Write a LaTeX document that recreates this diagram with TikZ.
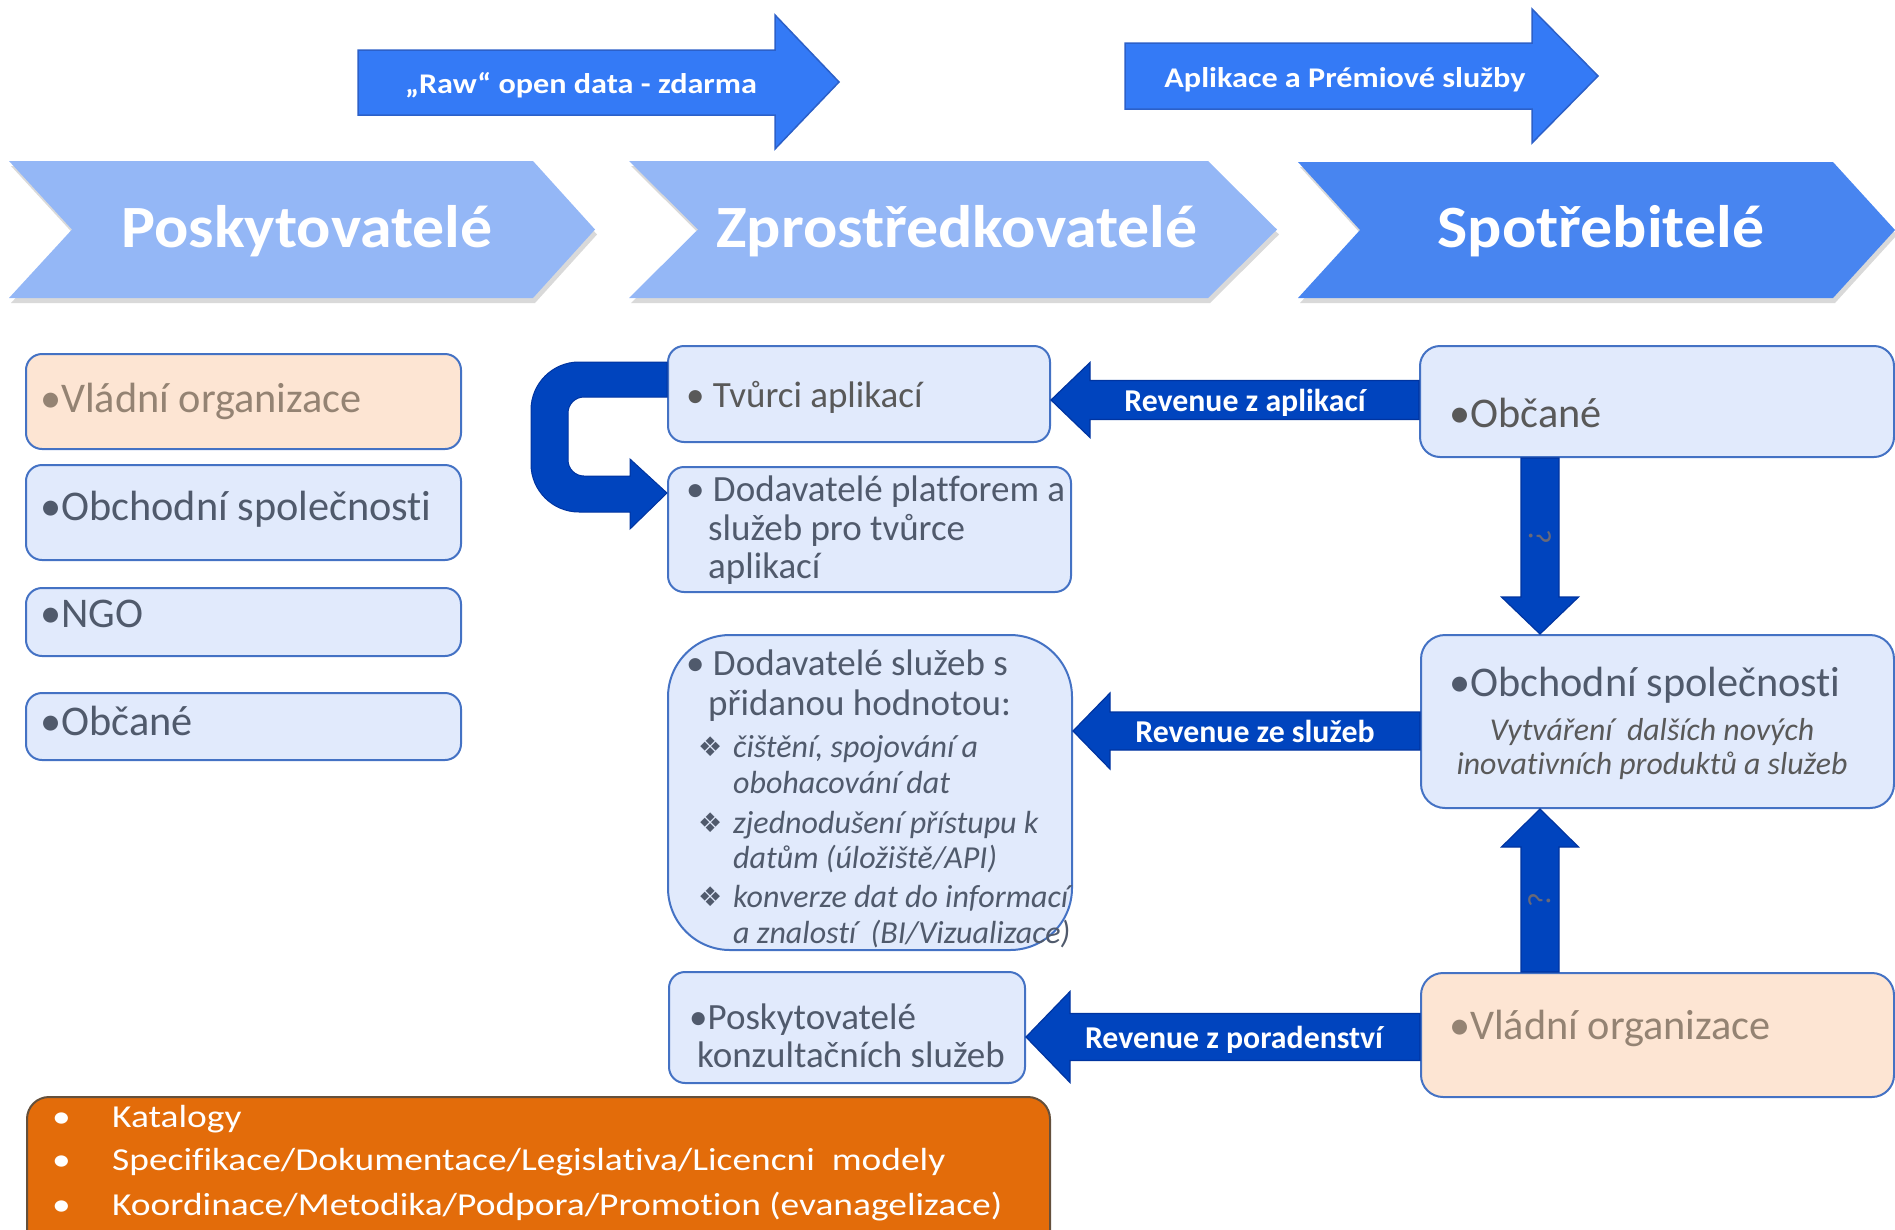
\documentclass[tikz,border=0pt]{standalone}
\usepackage{fontspec}
\setmainfont{Carlito}[Ligatures=NoCommon]
\newfontfamily\chevfont{Carlito}[Ligatures=NoCommon,FakeStretch=1.065]
\newfontfamily\topfont{Carlito}[Ligatures=NoCommon,FakeStretch=1.13]
\newfontfamily\orfont{Carlito}[Ligatures=NoCommon,FakeStretch=1.17]
\newfontfamily\dejavu{DejaVu Sans}
\usetikzlibrary{calc,shadows}
\definecolor{chevL}{RGB}{148,183,246}
\definecolor{chevD}{RGB}{72,133,240}
\definecolor{topblue}{RGB}{52,122,246}
\definecolor{topborder}{RGB}{44,96,200}
\definecolor{barrowc}{RGB}{0,68,190}
\definecolor{barrowb}{RGB}{0,52,160}
\definecolor{boxfill}{RGB}{225,234,252}
\definecolor{boxline}{RGB}{68,114,196}
\definecolor{peach}{RGB}{253,229,211}
\definecolor{orangefill}{RGB}{227,108,10}
\definecolor{orangeline}{RGB}{100,80,60}
\definecolor{slate}{RGB}{80,90,108}
\definecolor{brownish}{RGB}{148,131,115}
\definecolor{gtext}{RGB}{89,89,89}
\definecolor{qcol}{RGB}{105,105,120}
\begin{document}
\begin{tikzpicture}[x=1pt,y=-1pt,
  chev/.style={drop shadow={shadow xshift=2pt,shadow yshift=-5pt,opacity=0.3}},
  chevtxt/.style={anchor=base,inner sep=0pt,text=white,font=\chevfont\fontsize{60}{70}\selectfont\bfseries},
  toparrow/.style={fill=topblue,draw=topborder,line width=1.5pt},
  toptxt/.style={anchor=base,inner sep=0pt,text=white,font=\topfont\fontsize{28.5}{34}\selectfont\bfseries},
  barrow/.style={fill=barrowc,draw=barrowb,line width=1.2pt},
  revtxt/.style={anchor=base,inner sep=0pt,text=white,font=\fontsize{31.8}{36}\selectfont\bfseries},
  box/.style={draw=boxline,line width=2pt,fill=boxfill,rounded corners=16pt,inner sep=0pt},
  pbox/.style={box,fill=peach},
  tL/.style={anchor=base west,inner sep=0pt,text=slate,font=\fontsize{42.3}{50}\selectfont},
  tM/.style={anchor=base west,inner sep=0pt,text=slate,font=\fontsize{37}{42}\selectfont},
  tI/.style={anchor=base west,inner sep=0pt,text=slate,font=\fontsize{32}{36}\selectfont\itshape},
  tO/.style={anchor=base west,inner sep=0pt,text=white,font=\orfont\fontsize{32}{38}\selectfont},
  qmark/.style={inner sep=0pt,text=qcol,font=\fontsize{32}{32}\selectfont}
]
\useasboundingbox (0,0) rectangle (1895,1229);

% ---------- chevrons ----------
\fill[chevL,chev] (9,161) -- (533,161) -- (595,229.5) -- (533,298) -- (9,298) -- (72,229.5) -- cycle;
\fill[chevL,chev] (629,161) -- (1208,161) -- (1277,229.5) -- (1208,298) -- (629,298) -- (698,229.5) -- cycle;
\fill[chevD,chev] (1298,162) -- (1833,162) -- (1895,230) -- (1833,298) -- (1298,298) -- (1360,230) -- cycle;
\node[chevtxt] (cP) at (307,247) {Poskytovatelé};
\node[chevtxt] (cZ) at (957,247) {Zprostředkovatelé};
\node[chevtxt] (cS) at (1601,247) {Spotřebitelé};

% ---------- top arrows ----------
\draw[toparrow] (358,50) -- (775,50) -- (775,15) -- (839,82) -- (775,149) -- (775,115) -- (358,115) -- cycle;
\node[toptxt] (tRaw) at (581,93) {„Raw“ open data - zdarma};
\draw[toparrow] (1125,43) -- (1532,43) -- (1532,9) -- (1598,76) -- (1532,143) -- (1532,109) -- (1125,109) -- cycle;
\node[toptxt] (tApl) at (1345,87) {Aplikace a Prémiové služby};

% ---------- left column ----------
\node[pbox,minimum width=435pt,minimum height=95pt] (L1) at (243.5,401.5) {};
\node[box,minimum width=435pt,minimum height=95pt] (L2) at (243.5,512.5) {};
\node[box,minimum width=435pt,minimum height=68pt] (L3) at (243.5,622) {};
\node[box,minimum width=435pt,minimum height=67pt] (L4) at (243.5,726.5) {};
\node[tL,text=brownish] (L1t) at (40,412) {•Vládní organizace};
\node[tL] (L2t) at (40,520) {•Obchodní společnosti};
\node[tL] (L3t) at (40,627) {•NGO};
\node[tL] (L4t) at (40,735) {•Občané};

% ---------- middle column ----------
\node[box,minimum width=382pt,minimum height=96pt] (tvurci) at (859,394) {};
\node[tM,text=gtext] (tvurcit) at (686,407) {• Tvůrci aplikací};
\node[box,minimum width=403pt,minimum height=125pt] (dodp) at (869.5,529.5) {};
\node[tM] (dodp1) at (686,501) {• Dodavatelé platforem a};
\node[tM] (dodp2) at (708,540) {služeb pro tvůrce};
\node[tM] (dodp3) at (708,578) {aplikací};

\node[box,rounded corners=62pt,minimum width=404pt,minimum height=315pt] (dods) at (870,792.5) {};
\node[tM] (dods1) at (686,675) {• Dodavatelé služeb s};
\node[tM] (dods2) at (708,715) {přidanou hodnotou:};
\node[tI] (i1a) at (733,757) {čištění, spojování a};
\node[tI] (i1b) at (733,793) {obohacování dat};
\node[tI] (i2a) at (733,833) {zjednodušení přístupu k};
\node[tI] (i2b) at (733,868) {datům (úložiště/API)};
\node[tI] (i3a) at (733,907) {konverze dat do informací};
\node[tI] (i3b) at (733,943) {a znalostí~ (BI/Vizualizace)};
\foreach \yy/\nn in {757/b1,833/b2,907/b3}
  \node[anchor=base west,inner sep=0pt,text=slate,font=\dejavu\fontsize{27}{27}\selectfont] (\nn) at (698,\yy-1) {❖};

\node[box,minimum width=356pt,minimum height=111pt] (konz) at (847,1027.5) {};
\node[tM] (konz1) at (689,1029) {•Poskytovatelé};
\node[tM] (konz2) at (697,1067) {konzultačních služeb};

% ---------- right column ----------
\node[box,rounded corners=20pt,minimum width=474pt,minimum height=111pt] (obcR) at (1657,401.5) {};
\node[tL,text=gtext] (obcRt) at (1449,427) {•Občané};
\node[box,rounded corners=24pt,minimum width=473pt,minimum height=173pt] (obchR) at (1657.5,721.5) {};
\node[tL] (obchRt) at (1449,696) {•Obchodní společnosti};
\node[anchor=base,inner sep=0pt,text=gtext,font=\fontsize{31.8}{36}\selectfont\itshape] (obchR1) at (1652,740) {Vytváření~ dalších nových};
\node[anchor=base,inner sep=0pt,text=gtext,font=\fontsize{31.8}{36}\selectfont\itshape] (obchR2) at (1652,774) {inovativních produktů a služeb};
\node[pbox,rounded corners=22pt,minimum width=473pt,minimum height=124pt] (vladR) at (1657.5,1035) {};
\node[tL,text=brownish] (vladRt) at (1449,1039) {•Vládní organizace};

% ---------- U-turn arrow ----------
\fill[barrowc,draw=barrowb,line width=1pt]
  (tvurci.west |- 0,362) -- (579,362) .. controls (552.5,362) and (531,383.5) .. (531,410)
  -- (531,464) .. controls (531,490.5) and (552.5,512) .. (579,512)
  -- (630,512) -- (630,529) -- (dodp.west |- 0,493) -- (630,459) -- (630,476)
  -- (584,476) .. controls (575.2,476) and (568,468.8) .. (568,460)
  -- (568,413) .. controls (568,404.2) and (575.2,397) .. (584,397)
  -- (tvurci.west |- 0,397) -- cycle;

% ---------- revenue arrows ----------
\draw[barrow] ($(tvurci.east)+(0,6)$) coordinate (a1t) -- ++(39,-37.5) -- ++(0,18)
  -- ($(a1t -| obcR.west)+(0,-19.5)$) -- ++(0,39) -- ($(a1t)+(39,19.5)$) -- ++(0,18) -- cycle;
\node[revtxt] (a1l) at (1245,411) {Revenue z aplikací};

\draw[barrow] (dods.east |- 0,731) coordinate (a2t) -- ++(37,-38) -- ++(0,19)
  -- ($(a2t -| obchR.west)+(0,-19)$) -- ++(0,38) -- ($(a2t)+(37,19)$) -- ++(0,19) -- cycle;
\node[revtxt] (a2l) at (1255,742) {Revenue ze služeb};

\draw[barrow] (konz.east |- 0,1037) coordinate (a3t) -- ++(44,-45.5) -- ++(0,22)
  -- ($(a3t -| vladR.west)+(0,-23.5)$) -- ++(0,47) -- ($(a3t)+(44,23.5)$) -- ++(0,22) -- cycle;
\node[revtxt] (a3l) at (1234,1048) {Revenue z poradenství};

% ---------- vertical arrows ----------
\draw[barrow] (obcR.south -| 1521,0) -- (1521,597) -- (1501.5,597) -- (obchR.north -| 1540,0)
  -- (1578.5,597) -- (1559,597) -- (obcR.south -| 1559,0) -- cycle;
\node[qmark,rotate=-90] (q1) at (1540,537) {?};
\draw[barrow] (vladR.north -| 1521,0) -- (1521,847) -- (1501.5,847) -- (obchR.south -| 1540,0)
  -- (1578.5,847) -- (1559,847) -- (vladR.north -| 1559,0) -- cycle;
\node[qmark,rotate=90] (q2) at (1540,900) {?};

% ---------- orange box ----------
\node[draw=orangeline,line width=2pt,fill=orangefill,rounded corners=22pt,inner sep=0pt,
  minimum width=1023pt,minimum height=170pt] (orng) at (538.5,1182) {};
\node[tO] (ob1) at (52,1127) {•};
\node[tO] (ob2) at (52,1170) {•};
\node[tO] (ob3) at (52,1215) {•};
\node[tO] (o1) at (112,1127) {Katalogy};
\node[tO] (o2) at (112,1170) {Specifikace/Dokumentace/Legislativa/Licencni~ modely};
\node[tO] (o3) at (112,1215) {Koordinace/Metodika/Podpora/Promotion (evanagelizace)};
\end{tikzpicture}
\end{document}
